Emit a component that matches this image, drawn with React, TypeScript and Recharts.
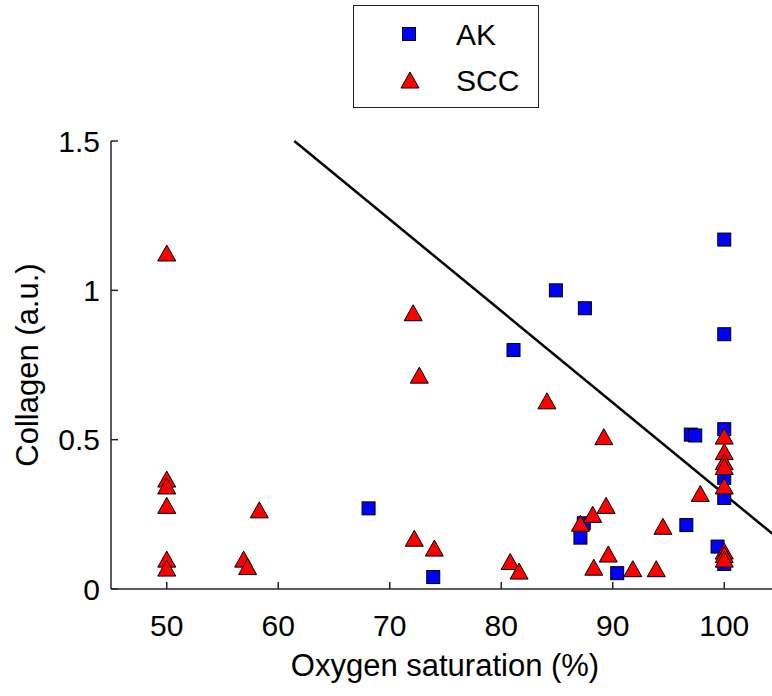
import React from "react";
import {
  Legend,
  ReferenceLine,
  Scatter,
  ScatterChart,
  XAxis,
  YAxis,
} from "recharts";

// AK (blue squares)
const akSat = [84.9, 87.5, 81.1, 68.1, 73.9, 87.1, 87.4, 90.4, 100, 100, 100, 97.0, 97.4, 100, 100, 96.6, 99.4, 100];
const akCollagen = [1.0, 0.94, 0.8, 0.27, 0.04, 0.172, 0.22, 0.053, 1.17, 0.853, 0.535, 0.517, 0.514, 0.372, 0.305, 0.214, 0.142, 0.084];

// SCC (red triangles)
const sccSat = [
  50, 50, 50, 50, 50, 50, 56.9, 57.25, 58.3, 72.1, 72.65, 72.2, 74.0, 80.8, 81.6, 84.1,
  87.1, 88.2, 89.4, 89.2, 89.6, 88.3, 91.8, 93.9, 94.5, 97.85,
  100, 100, 100, 100, 100, 100, 100, 100,
];
const sccCollagen = [
  1.125, 0.368, 0.345, 0.28, 0.1, 0.07, 0.1, 0.075, 0.265, 0.925, 0.716, 0.17, 0.137, 0.092, 0.06, 0.63,
  0.22, 0.25, 0.28, 0.51, 0.117, 0.073, 0.068, 0.068, 0.21, 0.32,
  0.512, 0.46, 0.426, 0.41, 0.345, 0.127, 0.115, 0.1,
];

// separating line
const lineSat = [61.44, 105];
const lineCollagen = [1.5, 0.164];

const xTicks = [50, 60, 70, 80, 90, 100];
const yTicks = [0, 0.5, 1, 1.5];

const akData = akSat.map((x, i) => ({ x, y: akCollagen[i] }));
const sccData = sccSat.map((x, i) => ({ x, y: sccCollagen[i] }));

const FONT = '"Liberation Sans", Arial, Helvetica, sans-serif';

const Square = (props: any) => {
  const { cx, cy } = props;
  return <rect x={cx - 6.5} y={cy - 6.5} width={13} height={13} fill="#0000ff" stroke="#000" strokeWidth={1} />;
};

const Triangle = (props: any) => {
  const { cx, cy } = props;
  const w = 9;
  const h = 8;
  return (
    <polygon
      points={`${cx},${cy - h} ${cx - w},${cy + h} ${cx + w},${cy + h}`}
      fill="#ff0000"
      stroke="#000"
      strokeWidth={1}
      strokeLinejoin="miter"
    />
  );
};

const LegendBox = () => (
  <svg width={186} height={103} style={{ display: "block" }}>
    <rect x={0.5} y={0.5} width={185} height={102} fill="#fff" stroke="#222" strokeWidth={1} />
    <Square cx={56} cy={29} />
    <Triangle cx={57} cy={75} />
    <text x={103} y={40} fontSize={30} fontFamily={FONT} fill="#000">AK</text>
    <text x={103} y={86} fontSize={30} fontFamily={FONT} fill="#000">SCC</text>
  </svg>
);

export default function App() {
  return (
    <div style={{ position: "fixed", left: 0, top: 0, width: 772, height: 696, overflow: "hidden", background: "#fff" }}>
      <ScatterChart
        width={800}
        height={696}
        margin={{ top: 141, right: 20, bottom: 47, left: 41 }}
        style={{ fontFamily: FONT }}
      >
        <XAxis
          xAxisId="top"
          orientation="top"
          type="number"
          dataKey="x"
          domain={[45, 105]}
          ticks={xTicks}
          height={0}
          tick={false}
          tickSize={-7}
          axisLine={{ stroke: "#262626", strokeWidth: 1.5 }}
          tickLine={{ stroke: "#262626", strokeWidth: 1.5 }}
        />
        <XAxis
          type="number"
          dataKey="x"
          domain={[45, 105]}
          ticks={xTicks}
          height={60}
          tickSize={-7}
          tickMargin={33}
          axisLine={{ stroke: "#262626", strokeWidth: 1.5 }}
          tickLine={{ stroke: "#262626", strokeWidth: 1.5 }}
          tick={{ fill: "#000", fontSize: 30, fontFamily: FONT }}
          label={{
            content: () => (
              <text x={445} y={676} textAnchor="middle" fontSize={31} fontFamily={FONT} fill="#000">
                Oxygen saturation (%)
              </text>
            ),
          }}
        />
        <YAxis
          type="number"
          dataKey="y"
          domain={[0, 1.5]}
          ticks={yTicks}
          width={70}
          tickSize={-7}
          tickMargin={18}
          axisLine={{ stroke: "#262626", strokeWidth: 1.5 }}
          tickLine={{ stroke: "#262626", strokeWidth: 1.5 }}
          tick={{ fill: "#000", fontSize: 30, fontFamily: FONT }}
          label={{
            content: () => (
              <text
                x={38}
                y={365}
                transform="rotate(-90, 38, 365)"
                textAnchor="middle"
                fontSize={31}
                fontFamily={FONT}
                fill="#000"
              >
                Collagen (a.u.)
              </text>
            ),
          }}
        />
        <ReferenceLine
          segment={[
            { x: lineSat[0], y: lineCollagen[0] },
            { x: lineSat[1], y: lineCollagen[1] },
          ]}
          stroke="#000"
          strokeWidth={2.5}
          ifOverflow="visible"
        />
        <Scatter name="AK" data={akData} shape={Square} isAnimationActive={false} />
        <Scatter name="SCC" data={sccData} shape={Triangle} isAnimationActive={false} />
        <Legend
          layout="horizontal"
          verticalAlign="middle"
          align="center"
          wrapperStyle={{ position: "absolute", left: 353, top: 5, width: 186, height: 103 }}
          content={() => <LegendBox />}
        />
      </ScatterChart>
    </div>
  );
}
